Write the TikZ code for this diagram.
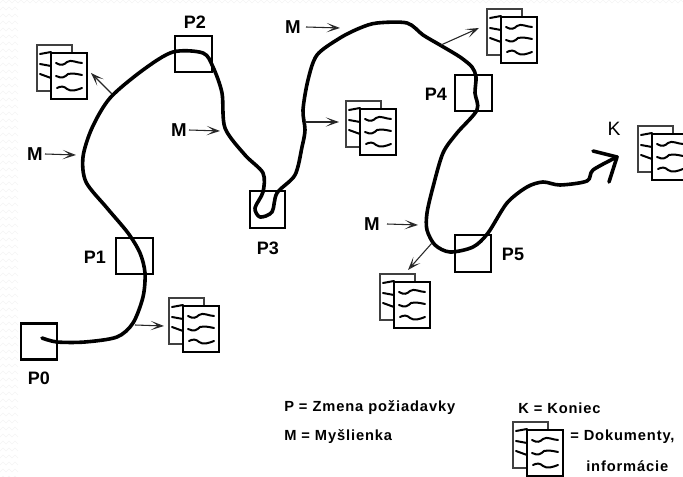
\documentclass[tikz,border=0pt]{standalone}
\usepackage{fontspec}
\setmainfont{Liberation Sans}
\newfontfamily\legendfont[LetterSpace=6]{Liberation Sans}
\usetikzlibrary{arrows.meta}
\tikzset{
  box/.style={draw=black,line width=1.8pt},
  thinbox/.style={draw=black,line width=1.2pt},
  thought/.style={draw=black,line width=2.7pt,line cap=round,line join=round},
  pointer/.style={draw=black!85,line width=0.8pt,-{Stealth[open,length=10pt,width=7pt,inset=5.5pt,line width=0.8pt]}},
  plabel/.style={font=\bfseries\fontsize{13.5}{15}\selectfont,inner sep=0pt},
  mlabel/.style={font=\bfseries\fontsize{14}{15}\selectfont,inner sep=0pt},
  legend/.style={font=\legendfont\bfseries\fontsize{11}{12}\selectfont,inner sep=0pt,anchor=west},
  back page/.style={draw=black!75,fill=white,line width=0.9pt},
  front page/.style={draw=black,fill=white,line width=1.9pt},
  squiggle/.style={draw=black,line width=1.5pt,line cap=round},
  pics/docs/.style={code={
    \draw[back page] (0,0) rectangle (35,46);
    \draw[squiggle] (3,9) -- (14,7) (3,19) -- (14,21) (3,29) -- (14,33);
    \draw[front page] (14,8) rectangle (50,54);
    \draw[squiggle] (19,18) .. controls (24,21) and (27,20) .. (30,17) .. controls (34,14) and (40,18) .. (45,18);
    \draw[squiggle] (19,31) .. controls (25,34) and (28,32) .. (31,29) .. controls (36,28) and (40,29) .. (45,30);
    \draw[squiggle] (20,43) .. controls (24,41) and (27,41) .. (30,44) .. controls (34,47) and (40,45) .. (45,43);
  }}
}
\begin{document}
\begin{tikzpicture}[x=0.75pt,y=-0.75pt]
\useasboundingbox (0,0) rectangle (683,477);
\fill[white] (0,0) rectangle (683,477);
% faint edge pattern
\foreach \yy in {0,7,...,476} \draw[black!4,line width=0.4pt] (0,\yy+3) -- ++(3,-3) -- ++(3,3) -- ++(3,-3) -- ++(3,3) -- ++(3,-3) -- ++(3,3);
\foreach \xx in {18,24,...,678} \draw[black!4,line width=0.4pt] (\xx,3) -- ++(3,-3) -- ++(3,3);
% change boxes
\node[box,minimum width=27pt,minimum height=27pt,inner sep=0pt] (p0) at (39,341.5) {};
\node[thinbox,minimum width=27.5pt,minimum height=27pt,inner sep=0pt] (p1) at (134.5,256) {};
\node[box,minimum width=27.5pt,minimum height=27pt,inner sep=0pt] (p2) at (193.5,54) {};
\node[thinbox,minimum width=26.5pt,minimum height=27.5pt,inner sep=0pt] (p3) at (267.5,209.5) {};
\node[box,minimum width=27.5pt,minimum height=27pt,inner sep=0pt] (p4) at (473.5,93) {};
\node[box,minimum width=27pt,minimum height=27.5pt,inner sep=0pt] (p5) at (473,253.5) {};
% labels
\node[plabel] (lp0) at (39,378) {P0};
\node[plabel] (lp1) at (95,257) {P1};
\node[plabel] (lp2) at (195,22) {P2};
\node[plabel] (lp3) at (268,248) {P3};
\node[plabel] (lp4) at (436,94) {P4};
\node[plabel] (lp5) at (513,254) {P5};
\node[inner sep=0pt,font=\fontsize{14.5}{15}\selectfont] (k) at (614,129) {K};
% main curve
\draw[thought] plot[smooth,tension=0.5] coordinates {
 (42,338) (57,342) (85,342) (117,337) (133,323) (143,297) (145,273) (140,253) (128,233)
 (107,208) (86,182) (83,157) (92,128) (110,98) (143,70) (173,52) (203,53) (213,67) (222,93) (225,128)
 (245,155) (263,173) (263,192) (255,208) (260,217) (272,212) (277,193) (295,175) (302,147) (305,130) (303,110) (308,80) (317,55)
 (340,38) (360,28) (377,23) (407,23) (423,35) (440,45) (460,57) (472,67) (476,77) (475,93) (477,110) (457,133) (443,153) (433,187) (427,213)
 (427,230) (435,245) (450,252) (473,247) (488,233) (507,203) (527,187) (543,182) (560,185) (587,181) (593,170) (617,157)};
\coordinate (kl) at (593,151);
\coordinate (kt) at (617,157);
\coordinate (kb) at (609,182);
\draw[thought] (kl) -- (kt) -- (kb);
% documents
\path (37,45) pic {docs};
\path (169,298) pic {docs};
\path (346,101) pic {docs};
\path (487,9) pic {docs};
\path (638,126) pic {docs};
\path (380,274) pic {docs};
\path (513,422) pic {docs};
% M labels and pointers
\node[mlabel] (m1) at (35,154) {M};
\node[mlabel] (m2) at (179,130) {M};
\node[mlabel] (m3) at (293,27) {M};
\node[mlabel] (m4) at (372,224) {M};
\coordinate (t1) at (76,155);
\coordinate (t2) at (220,131);
\coordinate (t3) at (340,28);
\coordinate (t4) at (418,225);
\draw[pointer] (m1) ++(10,0) -- (t1);
\draw[pointer] (m2) ++(10,0) -- (t2);
\draw[pointer] (m3) ++(13,0) -- (t3);
\draw[pointer] (m4) ++(15,0) -- (t4);
\coordinate (a1) at (112,94); \coordinate (b1) at (91,73);
\coordinate (a2) at (305,122); \coordinate (b2) at (339,122);
\coordinate (a3) at (441,45); \coordinate (b3) at (479,28);
\coordinate (a4) at (432,243); \coordinate (b4) at (408,270);
\coordinate (a5) at (135,325); \coordinate (b5) at (164,326);
\draw[pointer] (a1) -- (b1);
\draw[pointer] (a2) -- (b2);
\draw[pointer] (a3) -- (b3);
\draw[pointer] (a4) -- (b4);
\draw[pointer] (a5) -- (b5);
% legend
\node[legend] (l1) at (284,408) {P = Zmena požiadavky};
\node[legend] (l2) at (284,437) {M = Myšlienka};
\node[legend] (l3) at (518,408) {K = Koniec};
\node[legend] (l4) at (570,437) {= Dokumenty,};
\node[legend] (l5) at (586,466) {informácie};
\end{tikzpicture}
\end{document}
